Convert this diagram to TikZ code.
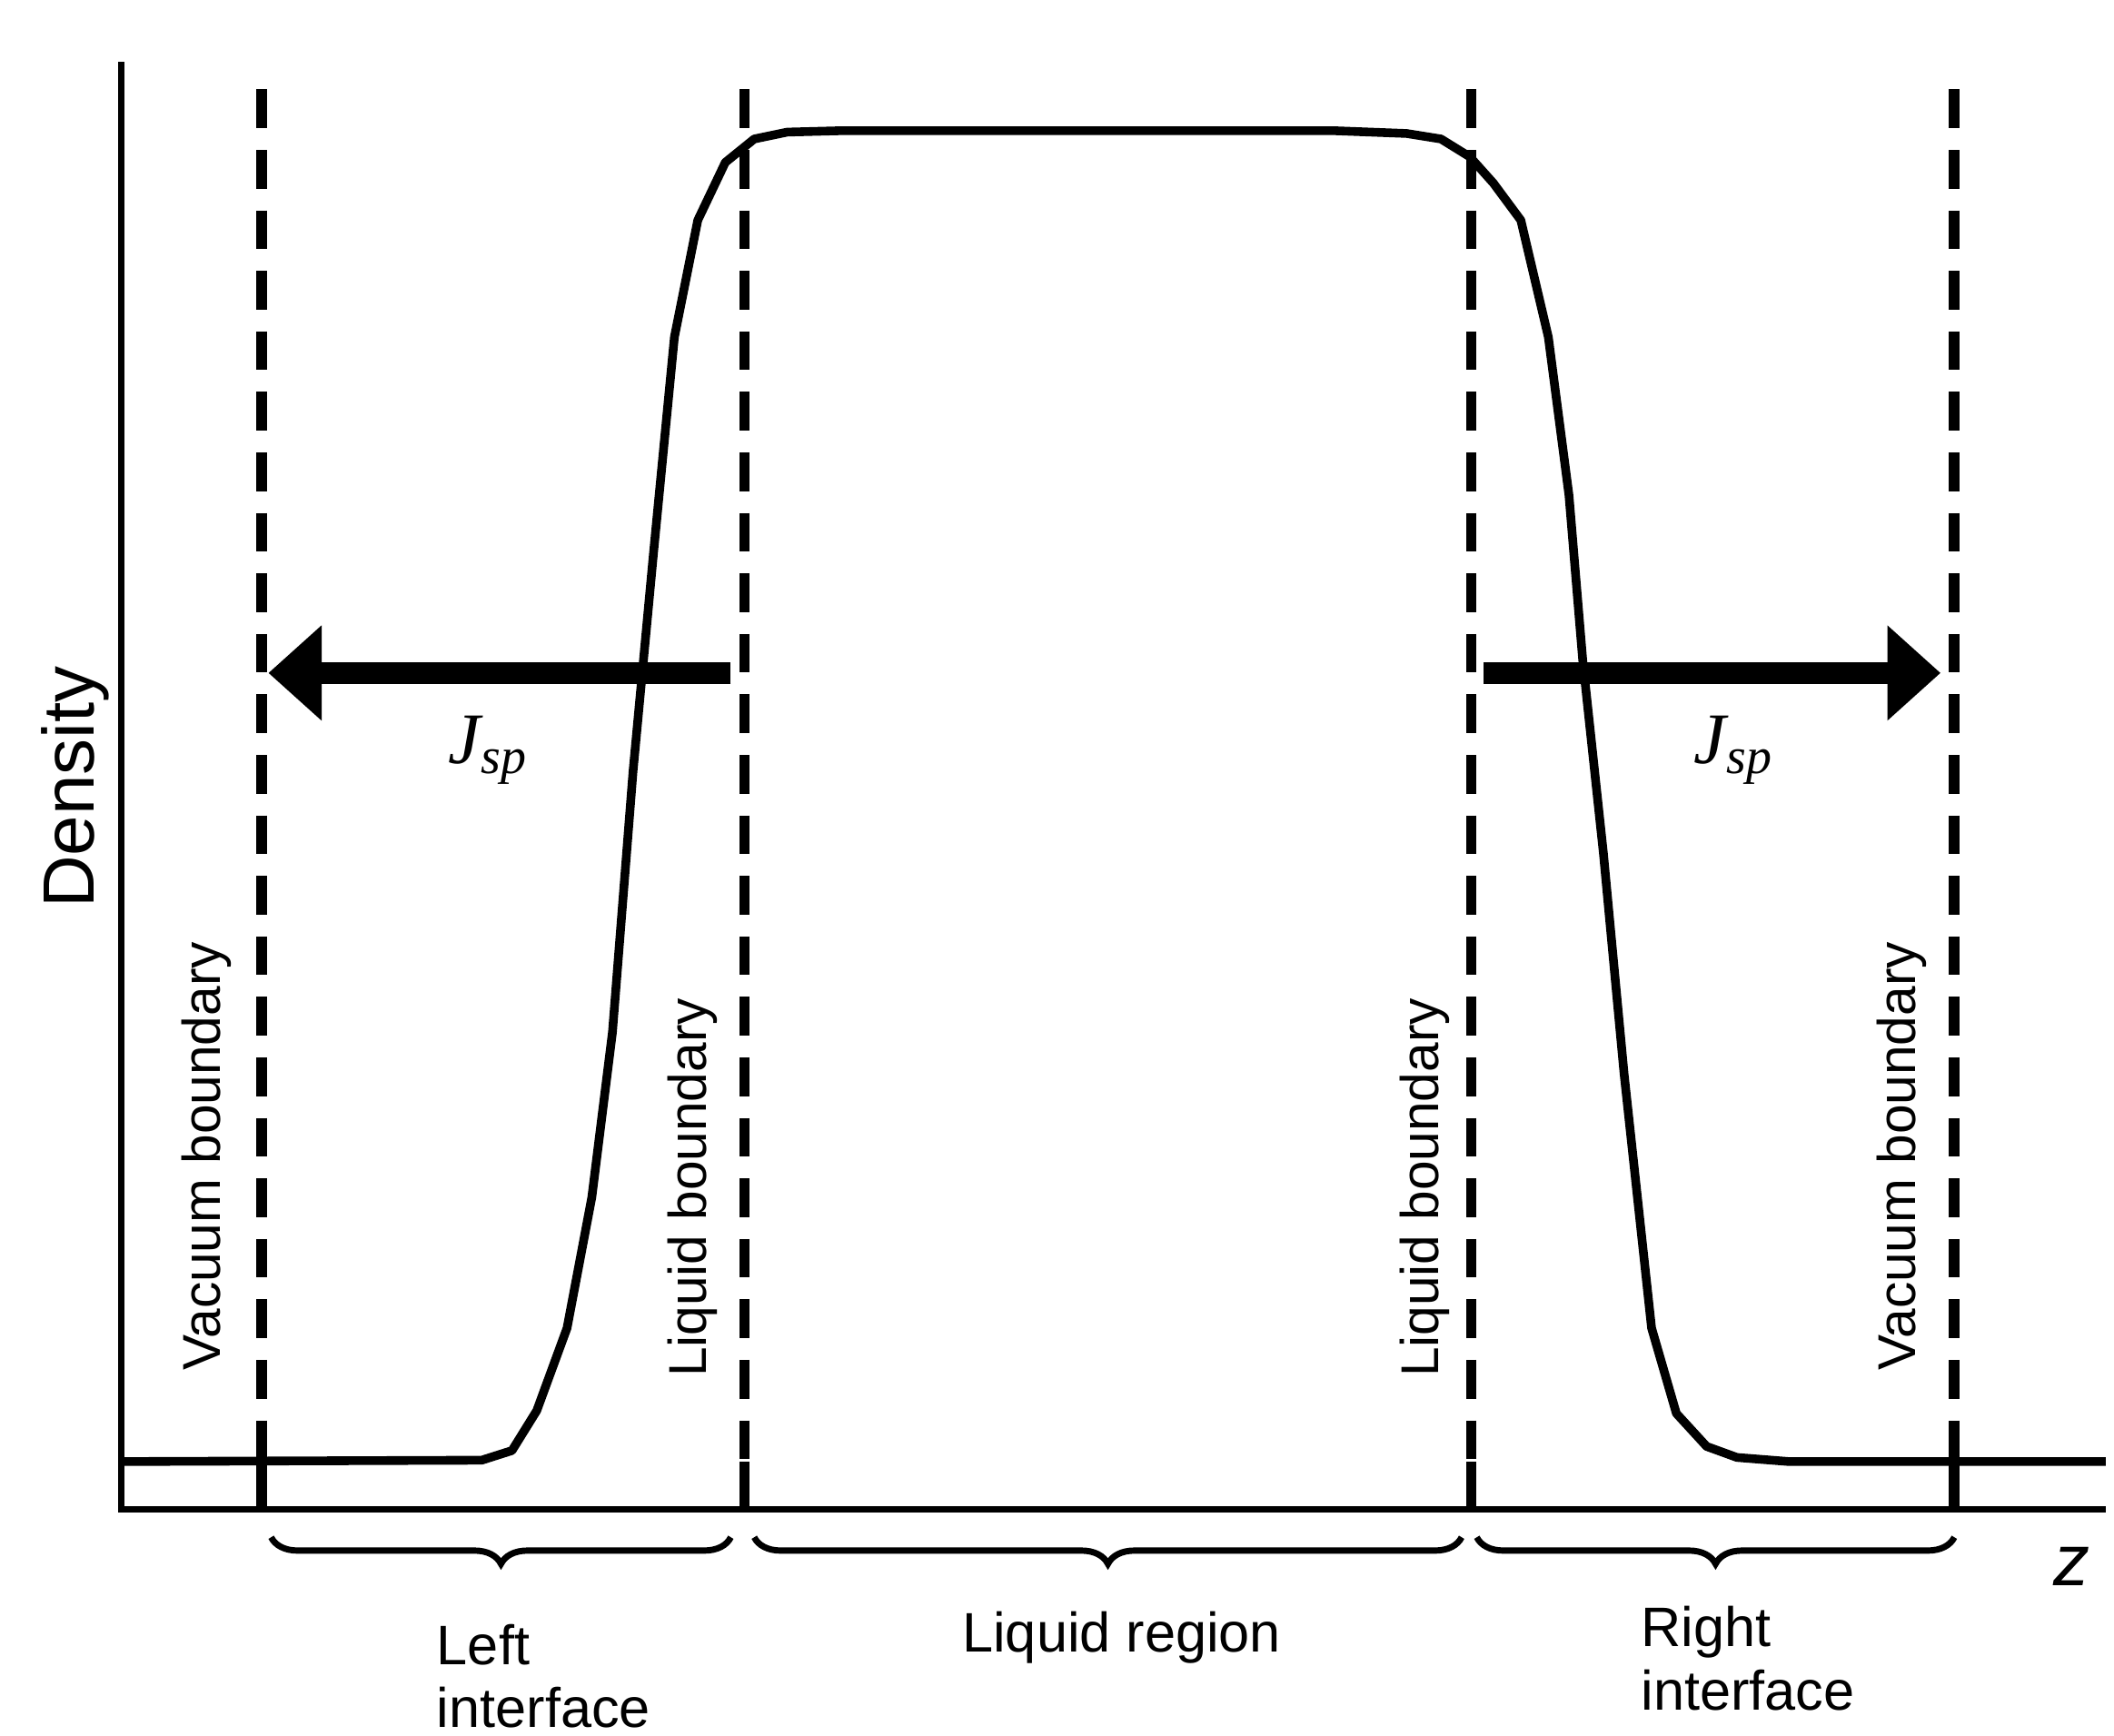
\documentclass[tikz,border=0pt]{standalone}
\usepackage{fontspec}
\setmainfont{Liberation Sans}
\newfontfamily\tms{Liberation Serif}
\usetikzlibrary{arrows.meta,decorations.pathreplacing}
\begin{document}
\begin{tikzpicture}[x=0.01cm,y=-0.01cm,
  bdash/.style={line width=2.2pt,dash pattern=on 8pt off 4.5pt},
  ax/.style={line width=1.3pt},
  flux/.style={line width=4.5pt,-{Triangle[length=11pt,width=19pt]}},
  vlab/.style={rotate=90,font=\fontsize{11}{12}\selectfont},
  blab/.style={font=\fontsize{11.5}{13}\selectfont,align=left},
  br/.style={decorate,decoration={brace,mirror,amplitude=5.5pt},line width=1.3pt},
  jlab/.style={font=\tms\itshape\fontsize{15}{16}\selectfont}]
\useasboundingbox (0,0) rectangle (1536,1261);
% axes
\coordinate (o) at (88,1097);
\coordinate (ytop) at (88,45);
\coordinate (xend) at (1530,1097);
\draw[ax] (ytop) -- (o) -- (xend);
% boundaries
\foreach \n/\x in {v1/190,l1/541,l2/1069,v2/1420}{
  \coordinate (\n t) at (\x,65);
  \coordinate (\n b) at (\x,1062);
  \coordinate (\n a) at (\x,1097);
  \draw[bdash] (\n t) -- (\n b);
  \draw[line width=2.2pt] (\n b) -- (\n a);
}
% density profile
\draw[line width=1.8pt,line join=round] (88,1062) -- (350,1061) -- (372,1054) -- (390,1025) -- (412,965) -- (430,870) -- (445,750) -- (460,560) -- (475,400) -- (490,245) -- (507,160) -- (527,118) -- (548,101) -- (572,96) -- (610,95) -- (970,95) -- (1022,97) -- (1047,101) -- (1068,114) -- (1085,133) -- (1105,160) -- (1125,245) -- (1140,360) -- (1150,480) -- (1165,620) -- (1180,780) -- (1200,965) -- (1218,1027) -- (1240,1051) -- (1262,1059) -- (1300,1062) -- (1530,1062);
% fluxes
\coordinate (fa) at (531,489); \coordinate (fb) at (195,489);
\coordinate (fc) at (1078,489); \coordinate (fd) at (1410,489);
\draw[flux] (fa) -- (fb);
\draw[flux] (fc) -- (fd);
\node[jlab] (j1) at (355,545) {J\textsubscript{sp}};
\node[jlab] (j2) at (1260,545) {J\textsubscript{sp}};
% labels
\node[rotate=90,font=\fontsize{15}{16}\selectfont] (dens) at (55,572) {Density};
\node[vlab] (lv1) at (150,840) {Vacuum boundary};
\node[vlab] (ll1) at (503,863) {Liquid boundary};
\node[vlab] (ll2) at (1035,863) {Liquid boundary};
\node[vlab] (lv2) at (1382,840) {Vacuum boundary};
\node[font=\itshape\fontsize{15}{16}\selectfont] (z) at (1505,1138) {z};
% braces
\draw[br] (197,1117) -- (531,1117);
\draw[br] (548,1117) -- (1062,1117);
\draw[br] (1073,1117) -- (1420,1117);
\node[blab] (b1) at (395,1218) {Left\\interface};
\node[blab] (b2) at (815,1190) {Liquid region};
\node[blab] (b3) at (1270,1205) {Right\\interface};
\end{tikzpicture}
\end{document}
